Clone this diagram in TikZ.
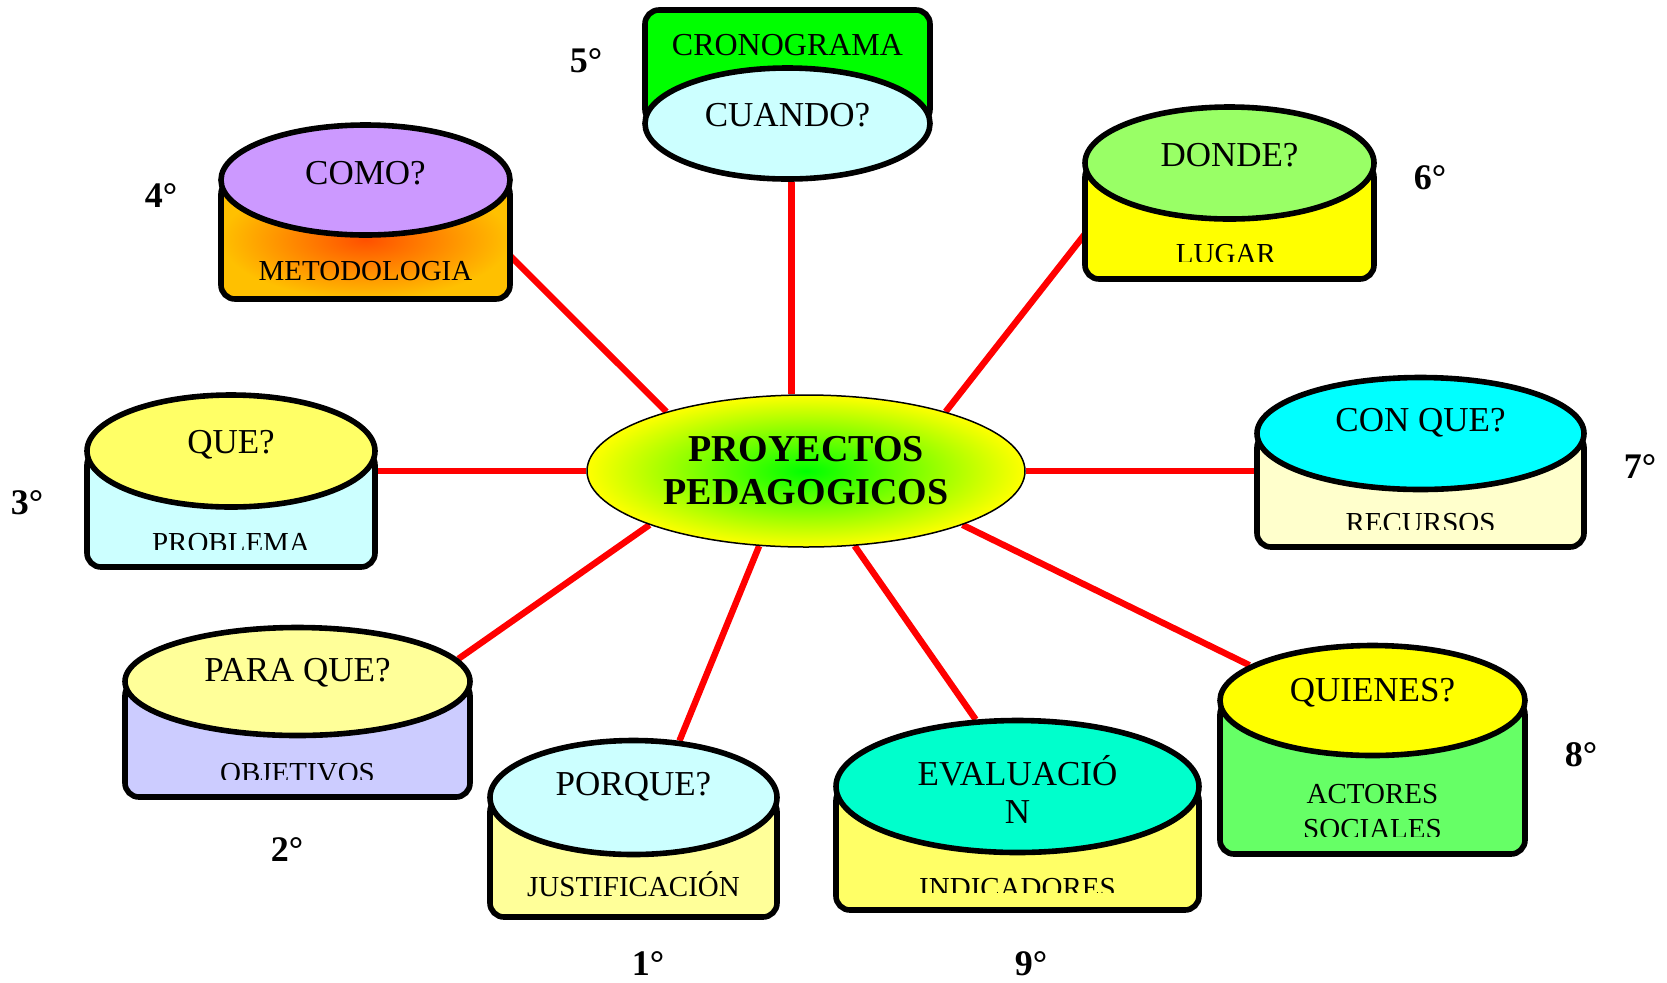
\documentclass[tikz,border=0pt]{standalone}
\usepackage{fontspec}
\setmainfont{Liberation Serif}
\usetikzlibrary{shapes.geometric,backgrounds}

% Colores
\definecolor{verdeluz}{HTML}{00FF00}
\definecolor{amarillo}{HTML}{FFFF00}
\definecolor{amarilloclaro}{HTML}{FFFF66}
\definecolor{crema}{HTML}{FFFF99}
\definecolor{marfil}{HTML}{FFFFCC}
\definecolor{celeste}{HTML}{CCFFFF}
\definecolor{cian}{HTML}{00FFFF}
\definecolor{lila}{HTML}{CC99FF}
\definecolor{lavanda}{HTML}{CCCCFF}
\definecolor{naranja}{HTML}{FFC000}
\definecolor{rojizo}{HTML}{FF5000}
\definecolor{turquesa}{HTML}{00FFCC}
\definecolor{verde}{HTML}{66FF66}
\definecolor{verdelima}{HTML}{99FF66}

\begin{document}
\begin{tikzpicture}[x=0.5pt, y=-0.5pt,
    borde/.style={draw=black, line width=2.8pt},
    tapa/.style={borde, ellipse, inner sep=0pt},
    enlace/.style={draw=red, line width=3.2pt},
    pregunta/.style={font=\fontsize{17.5}{19}\selectfont, align=center, inner sep=0pt},
    respuesta/.style={font=\fontsize{14.5}{17.5}\selectfont, align=center, inner sep=0pt, anchor=base},
    orden/.style={font=\fontsize{18}{20}\selectfont\bfseries, inner sep=0pt}]

    \useasboundingbox (0,0) rectangle (1667,982);

    % Elipse central
    \node[ellipse, draw=black, line width=0.75pt, inner color=verdeluz, outer color=amarillo,
          minimum width=219pt, minimum height=76pt, inner sep=0pt, align=center,
          font=\fontsize{19}{21.5}\selectfont\bfseries] (centro) at (806,471) {PROYECTOS\\PEDAGOGICOS};

    % Cuando (al reves: tapa abajo)
    \draw[borde, fill=verdeluz, rounded corners=7pt] (645,10) rectangle (930,123.5);
    \node[tapa, fill=celeste, minimum width=142.5pt, minimum height=55.5pt] (cuando) at (787.5,123.5) {};
    \node[pregunta, font=\fontsize{16}{18}\selectfont] (cuando-r) at (787.5,45) {CRONOGRAMA};
    \node[pregunta] (cuando-p) at (787.5,115) {CUANDO?};

    % Discos: nombre/x/y/rx/ry/fondo/y pregunta/y respuesta/tapa/cuerpo/nucleo/pregunta/respuesta
    \foreach \nom/\cx/\cy/\rx/\ry/\fondo/\ya/\yb/\ca/\cb/\cn/\ta/\tb in {
        como/365.5/180/144.5/55/299/173/280/lila/naranja/rojizo/COMO?/METODOLOGIA,
        que/231/451/144/56/567/445/552/amarilloclaro/celeste/celeste/QUE?/PROBLEMA,
        paraque/297.5/681.5/172.5/54/797/673/782/crema/lavanda/lavanda/PARA QUE?/OBJETIVOS,
        porque/633.5/797.5/143.5/57/917/787/896/celeste/crema/crema/PORQUE?/JUSTIFICACIÓN,
        evaluacion/1017.5/786.5/181.5/66/910/789/897/turquesa/amarilloclaro/amarilloclaro/{EVALUACIÓ\\N}/INDICADORES,
        quienes/1372.5/700.5/152.5/55/854/693/838/amarillo/verde/verde/QUIENES?/{ACTORES\\SOCIALES},
        conque/1420.5/433.5/163.5/56/547/423/532/cian/marfil/marfil/CON QUE?/RECURSOS,
        donde/1229.5/163/144.5/56/279/155/263/verdelima/amarillo/amarillo/DONDE?/LUGAR
    } {
        \shadedraw[borde, inner color=\cn, outer color=\cb, rounded corners=7pt]
            ({\cx-\rx},\cy) rectangle ({\cx+\rx},\fondo);
        \node[tapa, fill=\ca, minimum width={\rx*1pt}, minimum height={\ry*1pt}] (\nom) at (\cx,\cy) {};
        \node[pregunta] (\nom-p) at (\cx,\ya) {\ta};
        \begin{scope}
            \clip ({\cx-\rx},\cy) rectangle ({\cx+\rx},{\fondo-18});
            \node[respuesta] (\nom-r) at (\cx,\yb) {\tb};
        \end{scope}
    }

    % Numeros de orden
    \foreach \paso/\px/\py in {1/648/964, 2/287/850, 3/27/503, 4/161/196, 5/586/61,
                               6/1430/178, 7/1640/467, 8/1581/755, 9/1031/964} {
        \node[orden] (orden-\paso) at (\px,\py) {\paso°};
    }

    % Lineas rojas
    \begin{pgfonlayer}{background}
        \draw[enlace] (cuando.-86) -- (cuando.-86 |- centro.north);
        \draw[enlace] (centro.157) -- (como.-20);
        \draw[enlace] (centro.23) -- (donde.197);
        \draw[enlace] (centro.west) -- (centro.west -| que.east);
        \draw[enlace] (centro.east) -- (centro.east -| conque.west);
        \draw[enlace] (centro.199) -- (paraque.8);
        \draw[enlace] (centro.238) -- (porque.51);
        \draw[enlace] (centro.-57) -- (evaluacion.122);
        \draw[enlace] (centro.-19) -- (quienes.164);
    \end{pgfonlayer}
\end{tikzpicture}
\end{document}
